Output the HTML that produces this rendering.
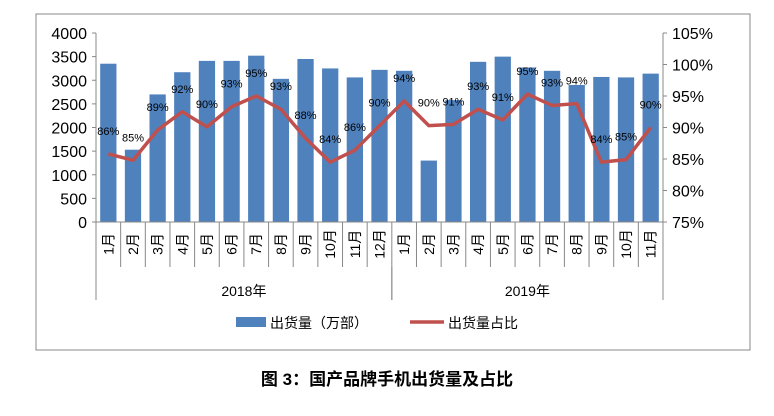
<!DOCTYPE html>
<html><head><meta charset="utf-8"><style>
body{margin:0;background:#fff;width:774px;height:411px;overflow:hidden;font-family:"Liberation Sans","Noto Sans CJK SC",sans-serif}
</style></head><body>
<svg id="c" width="774" height="411" xmlns="http://www.w3.org/2000/svg" font-family="Liberation Sans, Noto Sans CJK SC, sans-serif"></svg>
<script>
const months=["1月","2月","3月","4月","5月","6月","7月","8月","9月","10月","11月","12月","1月","2月","3月","4月","5月","6月","7月","8月","9月","10月","11月"];
const years=["2018年","2019年"];
const yearCounts=[12,11];
const shipments=[3350,1530,2700,3170,3410,3410,3520,3030,3450,3250,3060,3220,3200,1300,2580,3390,3500,3270,3200,2900,3070,3060,3140];
const shares=[85.8,84.8,89.6,92.5,90.1,93.3,95,92.9,88.3,84.5,86.4,90.3,94.2,90.3,90.5,92.9,91.2,95.3,93.5,93.8,84.5,84.9,90];
const shareLabels=["86%","85%","89%","92%","90%","93%","95%","93%","88%","84%","86%","90%","94%","90%","91%","93%","91%","95%","93%","94%","84%","85%","90%"];
const leftTicks=[0,500,1000,1500,2000,2500,3000,3500,4000];
const rightTicks=[75,80,85,90,95,100,105];
const svg=document.getElementById('c');const NS='http://www.w3.org/2000/svg';
function mk(t,a,p){const e=document.createElementNS(NS,t);for(const k in a)e.setAttribute(k,a[k]);(p||svg).appendChild(e);return e;}
const X0=96,X1=663,Y0=222,Y1=33,n=months.length,bw=(X1-X0)/n;
const yL=v=>Y0-(v/4000)*(Y0-Y1);
const yR=v=>Y0-((v-75)/30)*(Y0-Y1);
const xc=i=>X0+bw*(i+0.5);
let e=mk('rect',{x:36,y:14,width:714,height:336,fill:'none',stroke:'#888','stroke-width':1});

shipments.forEach((v,i)=>{const r=mk('rect',{x:xc(i)-bw*0.33,y:yL(v),width:bw*0.66,height:Y0-yL(v),fill:'#4f81bd'});
});
mk('line',{x1:X0,y1:Y1,x2:X0,y2:Y0,stroke:'#888'});
mk('line',{x1:X1,y1:Y1,x2:X1,y2:Y0,stroke:'#888'});
mk('line',{x1:X0,y1:Y0,x2:X1,y2:Y0,stroke:'#888'});
leftTicks.forEach(v=>{mk('line',{x1:X0-4,y1:yL(v),x2:X0,y2:yL(v),stroke:'#888'});
const t=mk('text',{x:X0-9,y:yL(v)+6,'text-anchor':'end','font-size':16,fill:'#000'});t.textContent=v;
});
rightTicks.forEach(v=>{mk('line',{x1:X1,y1:yR(v),x2:X1+4,y2:yR(v),stroke:'#888'});
const t=mk('text',{x:X1+9,y:yR(v)+6,'font-size':16,fill:'#000'});t.textContent=v+'%';
});
for(let i=0;i<=n;i++){const x=X0+bw*i;mk('line',{x1:x,y1:Y0,x2:x,y2:267,stroke:'#888'});}
months.forEach((m,i)=>{const t=mk('text',{x:0,y:0,'font-size':14,fill:'#000','text-anchor':'middle',transform:`translate(${xc(i)+5},244) rotate(-90)`});t.textContent=m;
});
let acc=0;
years.forEach((y,j)=>{const xa=X0+bw*acc,xb=X0+bw*(acc+yearCounts[j]);
mk('line',{x1:xa,y1:267,x2:xa,y2:300,stroke:'#888'});mk('line',{x1:xb,y1:267,x2:xb,y2:300,stroke:'#888'});
const t=mk('text',{x:(xa+xb)/2,y:296,'text-anchor':'middle','font-size':14,fill:'#000'});t.textContent=y;
acc+=yearCounts[j];});
const l=mk('polyline',{points:shares.map((v,i)=>xc(i)+','+yR(v)).join(' '),fill:'none',stroke:'#c0504d','stroke-width':3.5,'stroke-linejoin':'round'});

shares.forEach((v,i)=>{const t=mk('text',{x:xc(i),y:yR(v)-19,'text-anchor':'middle','font-size':11,fill:'#000'});t.textContent=shareLabels[i];
});
let g=mk('g',{});
mk('rect',{x:236,y:317,width:30,height:10,fill:'#4f81bd'},g);
let t=mk('text',{x:270,y:328,'font-size':14,fill:'#000'},g);t.textContent='出货量（万部）';
g=mk('g',{});
mk('line',{x1:410,y1:322,x2:444,y2:322,stroke:'#c0504d','stroke-width':3.5},g);
t=mk('text',{x:448,y:328,'font-size':14,fill:'#000'},g);t.textContent='出货量占比';
t=mk('text',{x:387,y:385,'text-anchor':'middle','font-size':17,'font-weight':'bold',fill:'#000'});t.textContent='图 3：国产品牌手机出货量及占比';

</script>
</body></html>
